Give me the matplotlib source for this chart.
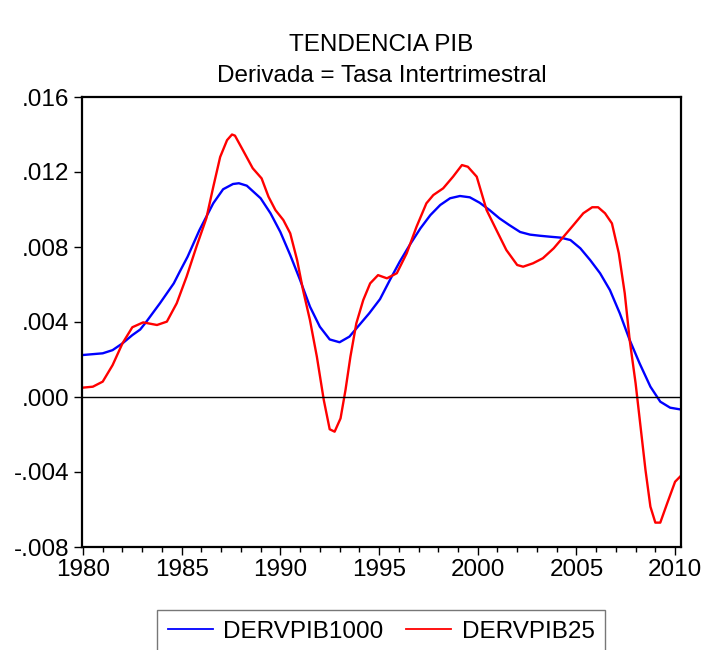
import numpy as np
import matplotlib
matplotlib.use('Agg')
import matplotlib.pyplot as plt
from matplotlib.ticker import MultipleLocator, FuncFormatter

plt.rcParams['font.family'] = ['Liberation Sans', 'DejaVu Sans']

## valores (en milesimas)
anio_1000 = [1980.0, 1981.0, 1981.5, 1982.0, 1982.5, 1982.9, 1983.2, 1983.9, 1984.6, 1984.9,
             1985.3, 1985.9, 1986.6, 1987.1, 1987.6, 1987.9, 1988.3, 1989.0, 1989.5, 1990.0,
             1990.5, 1991.0, 1991.5, 1992.0, 1992.5, 1993.0, 1993.5, 1994.0, 1994.5, 1995.05,
             1995.55, 1996.05, 1996.55, 1997.1, 1997.6, 1998.1, 1998.6, 1999.1, 1999.6, 2000.1,
             2000.6, 2001.1, 2001.6, 2002.15, 2002.65, 2003.15, 2003.65, 2004.2, 2004.7, 2005.2,
             2005.7, 2006.2, 2006.7, 2007.2, 2007.7, 2008.2, 2008.75, 2009.25, 2009.75, 2010.25]
dervpib1000 = [2.24, 2.33, 2.5, 2.86, 3.3, 3.6, 4.0, 5.0, 6.06, 6.68,
               7.48, 8.9, 10.33, 11.08, 11.36, 11.4, 11.27, 10.6, 9.8, 8.8,
               7.57, 6.24, 4.82, 3.75, 3.07, 2.92, 3.22, 3.84, 4.46, 5.22,
               6.24, 7.22, 8.1, 9.0, 9.7, 10.24, 10.6, 10.72, 10.65, 10.36,
               9.97, 9.53, 9.17, 8.8, 8.66, 8.6, 8.55, 8.5, 8.37, 7.93,
               7.3, 6.6, 5.7, 4.46, 3.04, 1.8, 0.55, -0.25, -0.57, -0.66]

anio_25 = [1980.0, 1980.5, 1981.0, 1981.5, 1982.0, 1982.5, 1983.05, 1983.75, 1984.25, 1984.75,
           1985.25, 1985.75, 1986.25, 1986.6, 1986.95, 1987.3, 1987.55, 1987.7, 1988.1, 1988.6,
           1989.05, 1989.4, 1989.75, 1990.15, 1990.5, 1990.85, 1991.15, 1991.5, 1991.85, 1992.2,
           1992.5, 1992.75, 1993.05, 1993.3, 1993.55, 1993.85, 1994.2, 1994.55, 1994.95, 1995.4,
           1995.9, 1996.4, 1996.9, 1997.4, 1997.75, 1998.25, 1998.75, 1999.2, 1999.5, 1999.95,
           2000.45, 2000.95, 2001.45, 2002.0, 2002.3, 2002.8, 2003.3, 2003.85, 2004.35, 2004.85,
           2005.35, 2005.8, 2006.1, 2006.45, 2006.8, 2007.15, 2007.45, 2007.7, 2008.0, 2008.25,
           2008.5, 2008.75, 2009.0, 2009.25, 2009.6, 2010.0, 2010.25]
dervpib25 = [0.5, 0.55, 0.82, 1.7, 2.86, 3.72, 3.98, 3.84, 4.02, 5.0,
             6.42, 8.02, 9.53, 11.2, 12.8, 13.7, 14.0, 13.94, 13.17, 12.2,
             11.66, 10.68, 9.97, 9.44, 8.73, 7.3, 5.7, 4.1, 2.15, -0.16,
             -1.72, -1.85, -1.14, 0.37, 2.15, 3.93, 5.17, 6.06, 6.5, 6.33,
             6.6, 7.66, 9.08, 10.33, 10.77, 11.13, 11.75, 12.37, 12.28, 11.75,
             9.97, 8.9, 7.84, 7.04, 6.95, 7.13, 7.4, 7.93, 8.55, 9.17,
             9.8, 10.12, 10.12, 9.8, 9.26, 7.66, 5.53, 3.04, 0.73, -1.58,
             -3.89, -5.85, -6.7, -6.7, -5.67, -4.52, -4.25]

fs = 17.5
fig = plt.figure(figsize=(7.07, 6.5), dpi=100)
ax = fig.add_axes([82/707, 1-547/650, (681-82)/707, (547-97)/650])

l1, = ax.plot(anio_1000, np.array(dervpib1000)/1000, color='#0000ff', lw=1.7)
l2, = ax.plot(anio_25, np.array(dervpib25)/1000, color='#ff0000', lw=1.7)
ax.axhline(0, color='black', lw=1)

ax.set_xlim(1979.95, 2010.3)
ax.set_ylim(-0.008, 0.016)
ax.xaxis.set_major_locator(MultipleLocator(5))
ax.xaxis.set_minor_locator(MultipleLocator(1))
ax.yaxis.set_major_locator(MultipleLocator(0.004))
ax.yaxis.set_major_formatter(FuncFormatter(lambda v, p: ('%.3f' % v).replace('0.', '.')))
ax.tick_params(axis='both', which='major', direction='out', length=6, width=1, labelsize=fs, pad=3)
ax.tick_params(axis='x', which='minor', direction='out', length=3.5, width=1)
for s in ax.spines.values():
    s.set_linewidth(1.6)

fig.text(381.5/707, 1-45/650, 'TENDENCIA PIB', ha='center', va='center', fontsize=fs)
fig.text(381.5/707, 1-76/650, 'Derivada = Tasa Intertrimestral', ha='center', va='center', fontsize=fs)

leg = fig.legend([l1, l2], ['DERVPIB1000', 'DERVPIB25'], loc='upper center',
                 bbox_to_anchor=(381/707, 1-610/650), ncol=2, fontsize=fs, frameon=True,
                 fancybox=False, edgecolor='#555555', handlelength=1.85, handletextpad=0.45,
                 columnspacing=0.9, borderpad=0.45, borderaxespad=0)
leg.get_frame().set_linewidth(1)
for h in leg.legend_handles:
    h.set_linewidth(1.3)

plt.savefig('out.png', dpi=100)
